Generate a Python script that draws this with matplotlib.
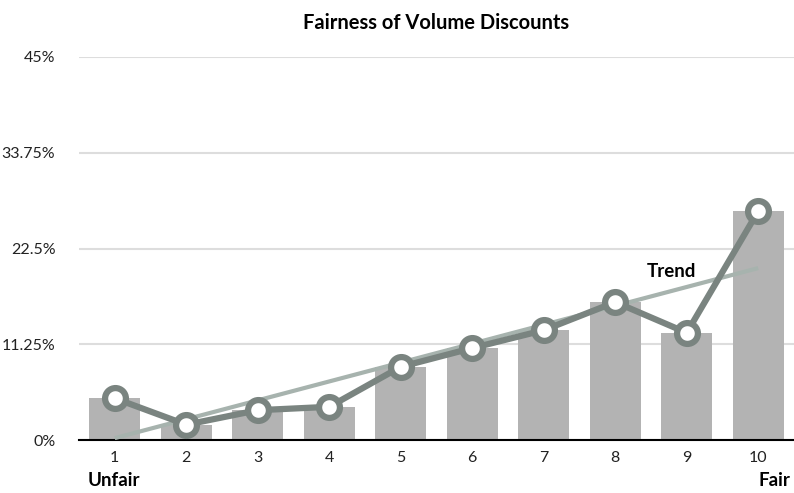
import matplotlib.pyplot as plt
import numpy as np

plt.rcParams['font.family'] = ['Lato', 'DejaVu Sans']

# Share of responses per rating (1 = unfair, 10 = fair)
ratings = np.arange(1, 11)
share = [4.9, 1.8, 3.5, 3.9, 8.6, 10.8, 12.9, 16.2, 12.6, 26.9]
y_ticks = [0, 11.25, 22.5, 33.75, 45]
y_labels = ['0%', '11.25%', '22.5%', '33.75%', '45%']

bar_color = '#b3b3b3'
line_color = '#7a8480'
trend_color = '#a7b3ae'

fig = plt.figure(figsize=(7.94, 4.93), dpi=100)
ax = fig.add_axes([79 / 794, 53 / 493, 715 / 794, 383 / 493])

ax.bar(ratings, share, width=0.72, color=bar_color, zorder=2)

# least-squares trend through the shares
slope, intercept = np.polyfit(ratings, share, 1)
trend = slope * ratings + intercept
ax.plot([ratings[0], ratings[-1]], [trend[0], trend[-1]],
        color=trend_color, lw=3, zorder=3, solid_capstyle='butt')

ax.plot(ratings, share, color=line_color, lw=4.5, zorder=4,
        marker='o', markersize=15, markerfacecolor='white',
        markeredgecolor=line_color, markeredgewidth=4.5)

ax.text(8.79, trend[7] + 4.0, 'Trend', fontsize=13.5, fontweight='bold',
        ha='center', va='center', zorder=5)

ax.set_xlim(0.5, 10.5)
ax.set_ylim(0, 45)
ax.set_yticks(y_ticks)
ax.set_yticklabels(y_labels)
ax.set_xticks(ratings)
ax.set_xticklabels([str(r) for r in ratings])
ax.yaxis.grid(True, color='#dddddd', lw=1.5, zorder=0)
ax.set_axisbelow(True)
ax.tick_params(axis='both', length=0, labelsize=11.5, colors='#222222')
ax.tick_params(axis='y', pad=17)
ax.tick_params(axis='x', pad=8)
for side in ['top', 'right', 'left']:
    ax.spines[side].set_visible(False)
ax.spines['bottom'].set_color('black')
ax.spines['bottom'].set_linewidth(1.5)

ax.set_title('Fairness of Volume Discounts', fontsize=14.5, fontweight='bold', pad=20)
fig.text(88 / 794, 1 - 480 / 493, 'Unfair', fontsize=13.5, fontweight='bold',
         ha='left', va='center')
fig.text(790 / 794, 1 - 480 / 493, 'Fair', fontsize=13.5, fontweight='bold',
         ha='right', va='center')

fig.savefig('out.png', dpi=100)
